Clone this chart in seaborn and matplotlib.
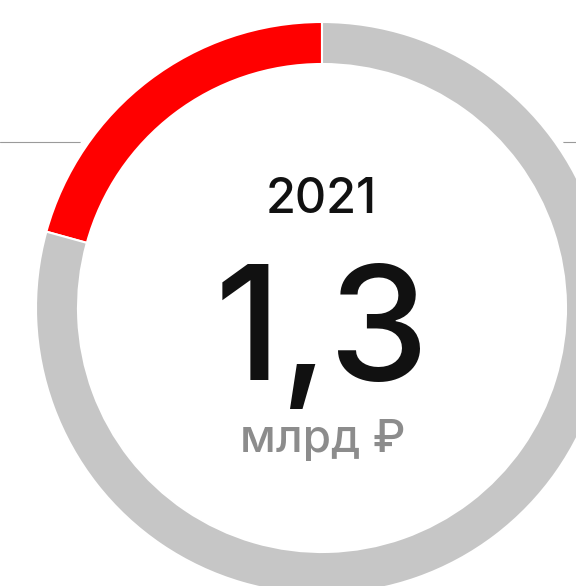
import seaborn as sns
import matplotlib.pyplot as plt
from matplotlib.patches import Circle

YEAR = "2021"
VALUE_LABEL = "1,3"
UNIT = "млрд ₽"
shares = [0.207, 0.793]
share_colors = ["#ff0000", "#c6c6c6"]

W, H = 576, 586
CX, CY = 322, 586 - 308
R_OUT, RING = 286, 42


def main() -> None:
    sns.set_style("white")
    plt.rcParams['font.family'] = ['Inter', 'DejaVu Sans']

    fig = plt.figure(figsize=(W / 100, H / 100), dpi=100)
    ax = fig.add_axes([0, 0, 1, 1])

    # thin rule behind the ring
    ax.axhline(586 - 142, color="#9a9a9a", lw=0.8, zorder=0)
    ax.add_patch(Circle((CX, CY), R_OUT + 6, color="white", zorder=1))

    wedges, _ = ax.pie(
        shares,
        colors=share_colors,
        startangle=90,
        counterclock=True,
        center=(CX, CY),
        radius=R_OUT,
        wedgeprops=dict(width=RING, edgecolor="white", linewidth=1.5),
        frame=True,
    )
    for w in wedges:
        w.set_zorder(2)
    ax.set_xlim(0, W)
    ax.set_ylim(0, H)
    ax.set_aspect('equal')
    ax.axis('off')

    ax.text(CX - 1, 586 - 213, YEAR, ha='center', va='baseline', fontsize=35,
            fontweight='medium', color="#111111", zorder=3)
    ax.text(CX, 586 - 380, VALUE_LABEL, ha='center', va='baseline', fontsize=115,
            fontweight='medium', color="#111111", zorder=3)
    ax.text(CX + 1, 586 - 452, UNIT, ha='center', va='baseline', fontsize=33,
            fontweight='medium', color="#8c8c8c", zorder=3)

    fig.savefig("out.png", dpi=100)


if __name__ == '__main__':
    main()
